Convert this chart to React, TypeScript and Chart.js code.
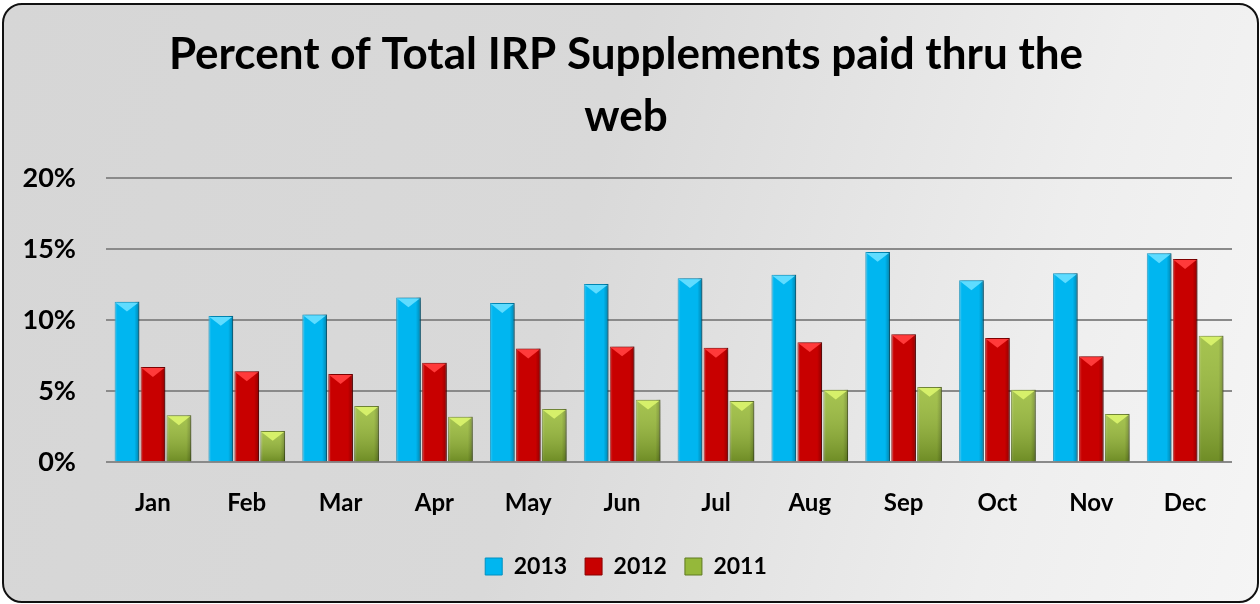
import React, { useEffect, useRef } from "react";
import { Chart, registerables } from "chart.js";

Chart.register(...registerables);

const titleLines = ["Percent of Total IRP Supplements paid thru the", "web"];
const months = ["Jan", "Feb", "Mar", "Apr", "May", "Jun", "Jul", "Aug", "Sep", "Oct", "Nov", "Dec"];
const seriesNames = ["2013", "2012", "2011"];
const values2013 = [11.3, 10.3, 10.4, 11.6, 11.2, 12.55, 12.95, 13.2, 14.8, 12.8, 13.3, 14.7];
const values2012 = [6.7, 6.4, 6.2, 7.0, 8.0, 8.15, 8.05, 8.45, 9.0, 8.75, 7.45, 14.3];
const values2011 = [3.3, 2.2, 3.95, 3.2, 3.75, 4.4, 4.3, 5.1, 5.3, 5.1, 3.4, 8.9];
const yTicks = [0, 5, 10, 15, 20];

const fills = ["#00b6f0", "#c80000", "#95b83a"];
const edges = ["#0090c0", "#8a0000", "#5f7a20"];
const tops = ["#5fdcff", "#ff3a3a", "#d6f06a"];

const FONT = "Lato, 'Open Sans', sans-serif";

const bevelPlugin = {
  id: "bevel",
  beforeDatasetsDraw(chart: any) {
    const ctx = chart.ctx;
    ctx.shadowColor = "rgba(0,0,0,0.35)";
    ctx.shadowBlur = 5;
    ctx.shadowOffsetX = 2;
    ctx.shadowOffsetY = 1;
  },
  afterDatasetsDraw(chart: any) {
    const ctx = chart.ctx;
    ctx.save();
    ctx.shadowColor = "rgba(0,0,0,0)";
    ctx.shadowBlur = 0;
    ctx.shadowOffsetX = 0;
    ctx.shadowOffsetY = 0;
    chart.data.datasets.forEach((ds: any, i: number) => {
      const meta = chart.getDatasetMeta(i);
      meta.data.forEach((bar: any) => {
        const { x, y, base, width } = bar.getProps(["x", "y", "base", "width"], true);
        const l = x - width / 2;
        const r = x + width / 2;
        const h = base - y;
        const g = ctx.createLinearGradient(l, 0, r, 0);
        g.addColorStop(0, "rgba(255,255,255,0.22)");
        g.addColorStop(0.12, "rgba(255,255,255,0)");
        g.addColorStop(0.8, "rgba(0,0,0,0)");
        g.addColorStop(1, "rgba(0,0,0,0.28)");
        ctx.fillStyle = g;
        ctx.fillRect(l, y, width, h);
        if (i === 2) {
          const gv = ctx.createLinearGradient(0, y, 0, base);
          gv.addColorStop(0, "rgba(255,255,200,0.15)");
          gv.addColorStop(1, "rgba(40,60,0,0.35)");
          ctx.fillStyle = gv;
          ctx.fillRect(l, y, width, h);
        }
        const th = Math.min(width * 0.4, h / 2);
        ctx.beginPath();
        ctx.moveTo(l + 1, y + 1);
        ctx.lineTo(r - 1, y + 1);
        ctx.lineTo(x, y + th);
        ctx.closePath();
        ctx.fillStyle = tops[i];
        ctx.fill();
      });
    });
    ctx.restore();
  },
};

export default function App() {
  const ref = useRef<HTMLCanvasElement | null>(null);

  useEffect(() => {
    document.body.style.margin = "0";
    const canvas = ref.current;
    if (!canvas) return;
    Chart.defaults.color = "#000";
    const datasets = [values2013, values2012, values2011].map((vals, i) => ({
      label: seriesNames[i],
      data: vals,
      backgroundColor: fills[i],
      borderColor: edges[i],
      borderWidth: 1,
      categoryPercentage: 0.83,
      barPercentage: 0.95,
    }));
    const chart = new Chart(canvas, {
      type: "bar",
      data: { labels: months, datasets },
      plugins: [bevelPlugin],
      options: {
        responsive: false,
        animation: false,
        devicePixelRatio: 1,
        layout: { padding: { left: 20, right: 28, top: 0, bottom: 16 } },
        plugins: {
          title: {
            display: true,
            text: titleLines,
            color: "#000",
            font: { family: FONT, size: 44, weight: "bold", lineHeight: 1.41 },
            padding: { top: 24, bottom: 30 },
          },
          legend: {
            position: "bottom",
            labels: {
              color: "#000",
              font: { family: FONT, size: 23, weight: "bold" },
              boxWidth: 17,
              boxHeight: 17,
              padding: 18,
            },
          },
          tooltip: { enabled: false },
        },
        scales: {
          x: {
            grid: { display: false },
            border: { display: false },
            ticks: { color: "#000", font: { family: FONT, size: 24, weight: "bold" }, padding: 19 },
          },
          y: {
            min: 0,
            max: 20,
            afterBuildTicks: (axis: any) => {
              axis.ticks = yTicks.map((v) => ({ value: v }));
            },
            afterFit: (axis: any) => {
              axis.width = 86;
            },
            grid: { color: "#8a8a8a", lineWidth: 2, drawTicks: false },
            border: { display: false },
            ticks: {
              color: "#000",
              font: { family: FONT, size: 27, weight: "bold" },
              padding: 30,
              callback: (v: any) => v + "%",
            },
          },
        },
      },
    });
    return () => chart.destroy();
  }, []);

  return (
    <div style={{ position: "fixed", left: 0, top: 0, width: 1260, height: 604 }}>
      <div
        style={{
          position: "absolute",
          left: 2,
          top: 3,
          width: 1257,
          height: 600,
          boxSizing: "border-box",
          border: "2px solid #111",
          borderRadius: 20,
          background: "linear-gradient(105deg, #d6d6d6 0%, #d9d9d9 45%, #eeeeee 80%, #f5f5f5 100%)",
        }}
      />
      <canvas ref={ref} width={1260} height={604} style={{ position: "absolute", left: 0, top: 0 }} />
    </div>
  );
}
